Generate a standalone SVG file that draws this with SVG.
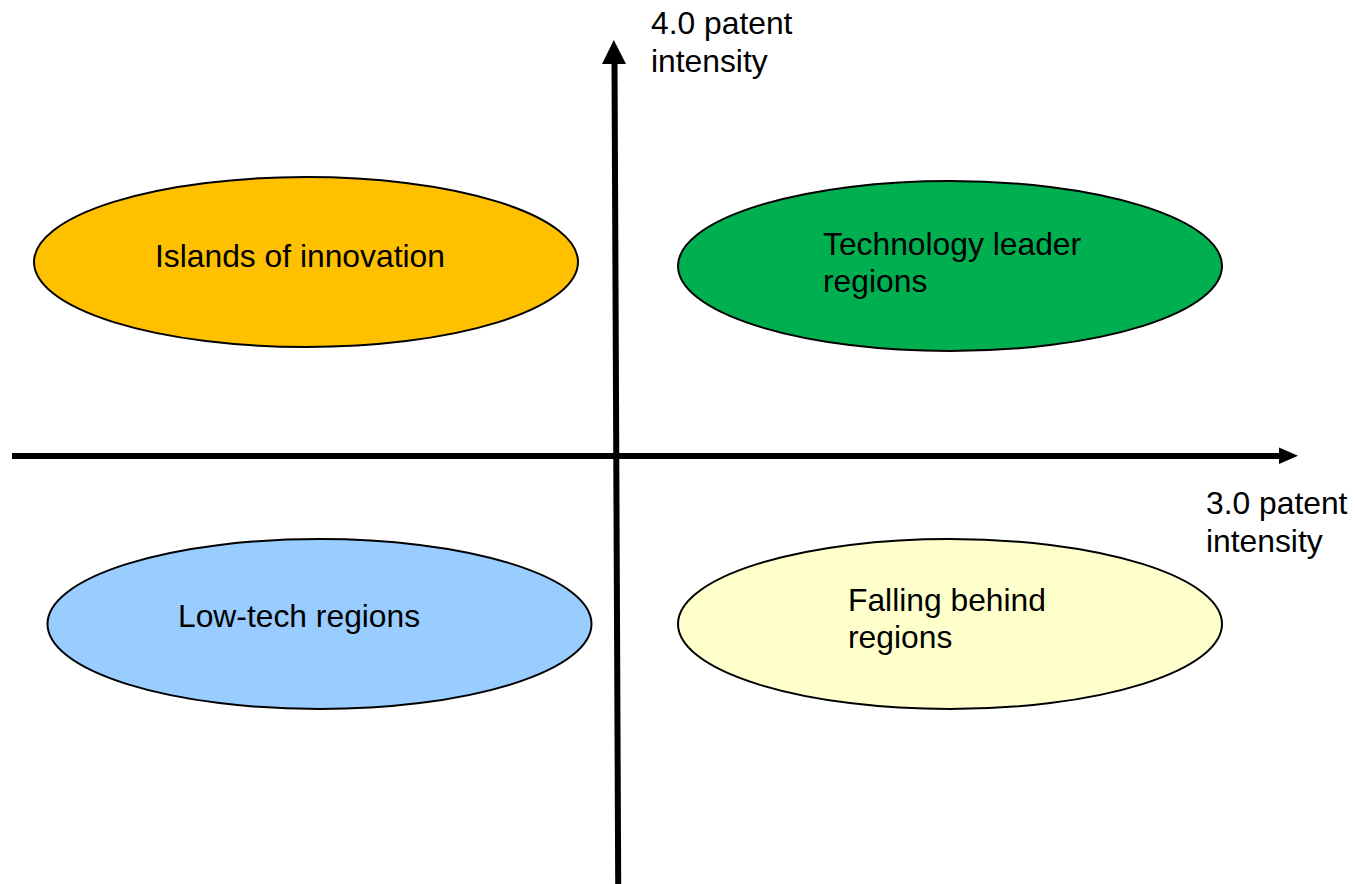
<svg xmlns="http://www.w3.org/2000/svg" width="1355" height="884" viewBox="0 0 1355 884">
  <style>
    .bubble { stroke: #000; stroke-width: 2; }
    .label { font-family: "Liberation Sans", Arial, sans-serif; font-size: 31.8px; fill: #000; }
    .axis { stroke: #000; stroke-width: 6; fill: none; }
    .head { fill: #000; stroke: none; }
  </style>
  <rect width="1355" height="884" fill="#fff"/>

  <!-- axes -->
  <g id="connectors">
    <line class="axis" x1="12" y1="456" x2="1281" y2="456"/>
    <polygon class="head" points="1279,447.5 1298,455.8 1279,464"/>
    <line class="axis" x1="614.5" y1="62" x2="618.2" y2="884"/>
    <polygon class="head" points="602,64 613.8,40 626,64"/>
  </g>

  <!-- quadrant bubbles -->
  <g id="islands">
    <ellipse class="bubble" cx="306" cy="262" rx="272" ry="85" fill="#FFC000"/>
    <text class="label" x="155" y="267">Islands of innovation</text>
  </g>
  <g id="leaders">
    <ellipse class="bubble" cx="950" cy="266" rx="272" ry="85" fill="#00B050"/>
    <text class="label" x="823" y="255">Technology leader</text>
    <text class="label" x="823" y="292">regions</text>
  </g>
  <g id="lowtech">
    <ellipse class="bubble" cx="319.5" cy="624" rx="272" ry="85" fill="#99CCFF"/>
    <text class="label" x="178" y="627">Low-tech regions</text>
  </g>
  <g id="falling">
    <ellipse class="bubble" cx="950" cy="624" rx="272" ry="85" fill="#FFFFCC"/>
    <text class="label" x="848" y="611">Falling behind</text>
    <text class="label" x="848" y="648">regions</text>
  </g>

  <!-- axis captions -->
  <g id="y-caption">
    <text class="label" x="651" y="34">4.0 patent</text>
    <text class="label" x="651" y="71.5">intensity</text>
  </g>
  <g id="x-caption">
    <text class="label" x="1206" y="514">3.0 patent</text>
    <text class="label" x="1206" y="551.5">intensity</text>
  </g>
</svg>
